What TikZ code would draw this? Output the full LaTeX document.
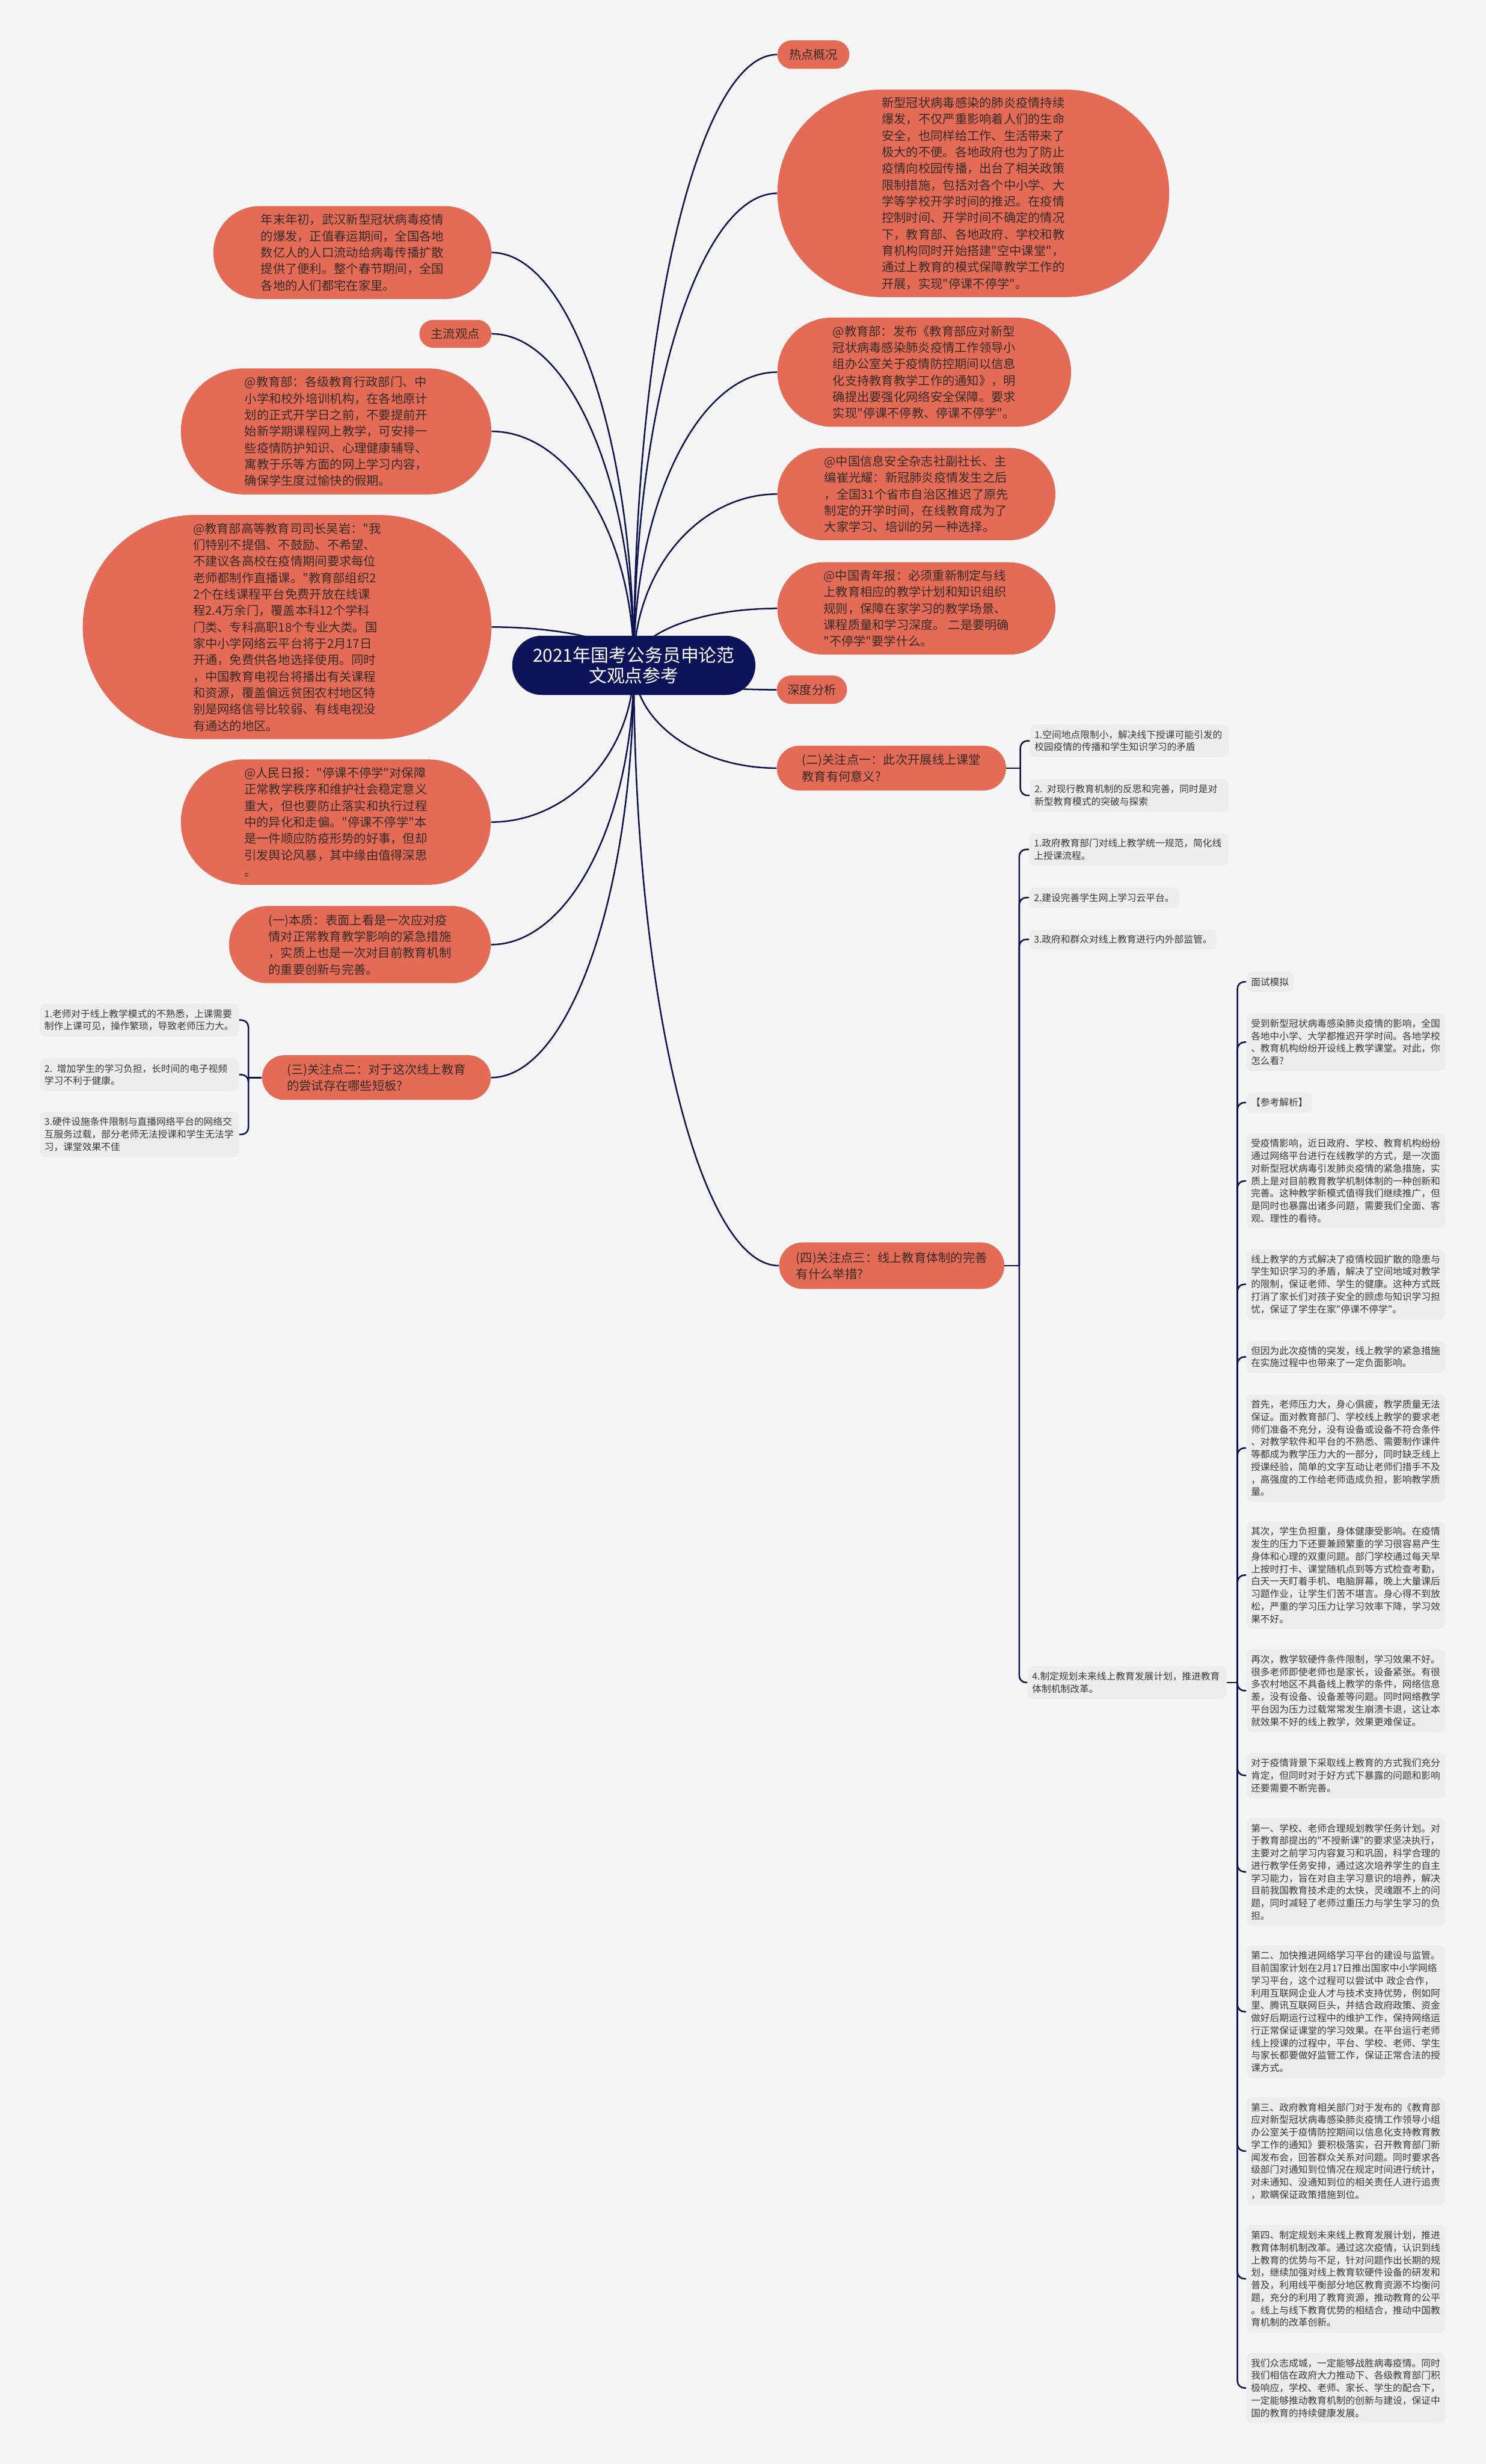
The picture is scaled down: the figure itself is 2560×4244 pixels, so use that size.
\documentclass[tikz,border=0pt]{standalone}
\usepackage{fontspec}
\newfontfamily\cjk{Noto Sans CJK SC}
\usetikzlibrary{shapes.misc,calc,backgrounds}
\definecolor{bgc}{HTML}{F5F5F5}
\definecolor{org}{HTML}{E46C56}
\definecolor{navy}{HTML}{0C1358}
\definecolor{lnk}{HTML}{0C1250}
\definecolor{leafbg}{HTML}{EDEDED}
\definecolor{otxt}{HTML}{382A26}
\definecolor{ltxt}{HTML}{3A3A3A}
\tikzset{
  onode/.style={shape=rounded rectangle, fill=org, text=otxt, align=left, inner xsep=2pt, inner ysep=6.5pt,
    font=\cjk\fontsize{10.5pt}{14.15pt}\selectfont},
  cnode/.style={shape=rounded rectangle, fill=navy, text=white, align=center, inner xsep=2pt, inner ysep=9pt,
    font=\cjk\fontsize{15.5pt}{17.5pt}\selectfont},
  leaf/.style={shape=rectangle, rounded corners=5pt, fill=leafbg, text=ltxt, align=left, inner xsep=4pt, inner ysep=5pt,
    font=\cjk\fontsize{8.15pt}{10.75pt}\selectfont},
  wleaf/.style={leaf, text width=163.5pt},
  conn/.style={draw=lnk, line width=1.3pt},
  curve/.style={conn, to path={.. controls ($(\tikztostart)!0.55!(\tikztostart |- \tikztotarget)$) and ($(\tikztotarget)!0.55!(\tikztostart |- \tikztotarget)$) .. (\tikztotarget)}},
  brace/.style={conn, rounded corners=6pt}
}
\begin{document}
\begin{tikzpicture}[x=0.5pt,y=-0.5pt]
\useasboundingbox (0,0) rectangle (2560,4244);

% central
\node[cnode, minimum width=213.5pt, minimum height=51pt] (c) at (1092,1146) {2021年国考公务员申论范\\文观点参考};

% right orange nodes
\node[onode, anchor=west, minimum width=66pt, minimum height=24.5pt] (hot) at (1339,94) {热点概况};
\node[onode, anchor=west, minimum width=341.5pt, minimum height=178.5pt] (big) at (1339,333) {新型冠状病毒感染的肺炎疫情持续\\爆发，不仅严重影响着人们的生命\\安全，也同样给工作、生活带来了\\极大的不便。各地政府也为了防止\\疫情向校园传播，出台了相关政策\\限制措施，包括对各个中小学、大\\学等学校开学时间的推迟。在疫情\\控制时间、开学时间不确定的情况\\下，教育部、各地政府、学校和教\\育机构同时开始搭建"空中课堂"，\\通过上教育的模式保障教学工作的\\开展，实现"停课不停学"。};
\node[onode, anchor=west, minimum width=257pt, minimum height=94pt] (moe2) at (1339,641) {@教育部：发布《教育部应对新型\\冠状病毒感染肺炎疫情工作领导小\\组办公室关于疫情防控期间以信息\\化支持教育教学工作的通知》，明\\确提出要强化网络安全保障。要求\\实现"停课不停教、停课不停学"。};
\node[onode, anchor=west, minimum width=243.5pt, minimum height=79.5pt] (info) at (1339,851) {@中国信息安全杂志社副社长、主\\编崔光耀：新冠肺炎疫情发生之后\\，全国31个省市自治区推迟了原先\\制定的开学时间，在线教育成为了\\大家学习、培训的另一种选择。};
\node[onode, anchor=west, minimum width=243.5pt, minimum height=79.5pt] (youth) at (1339,1048) {@中国青年报：必须重新制定与线\\上教育相应的教学计划和知识组织\\规则，保障在家学习的教学场景、\\课程质量和学习深度。 二是要明确\\"不停学"要学什么。};
\node[onode, anchor=west, minimum width=64.5pt, minimum height=24.5pt] (deep) at (1338,1188) {深度分析};
\node[onode, anchor=west, minimum width=201.5pt, minimum height=38.5pt] (q1) at (1338,1323) {(二)关注点一：此次开展线上课堂\\教育有何意义?};
\node[onode, anchor=west, minimum width=198pt, minimum height=40pt] (q3) at (1342,2180) {(四)关注点三：线上教育体制的完善\\有什么举措?};

% left orange nodes
\node[onode, anchor=east, minimum width=243.5pt, minimum height=80pt] (year) at (847,435) {年末年初，武汉新型冠状病毒疫情\\的爆发，正值春运期间，全国各地\\数亿人的人口流动给病毒传播扩散\\提供了便利。整个春节期间，全国\\各地的人们都宅在家里。};
\node[onode, anchor=east, minimum width=66pt, minimum height=24pt] (main) at (847,575) {主流观点};
\node[onode, anchor=east, minimum width=271.5pt, minimum height=108.5pt] (moe1) at (847,743) {@教育部：各级教育行政部门、中\\小学和校外培训机构，在各地原计\\划的正式开学日之前，不要提前开\\始新学期课程网上教学，可安排一\\些疫情防护知识、心理健康辅导、\\寓教于乐等方面的网上学习内容，\\确保学生度过愉快的假期。};
\node[onode, anchor=east, minimum width=356pt, minimum height=193pt] (high) at (847,1080) {@教育部高等教育司司长吴岩："我\\们特别不提倡、不鼓励、不希望、\\不建议各高校在疫情期间要求每位\\老师都制作直播课。"教育部组织2\\2个在线课程平台免费开放在线课\\程2.4万余门，覆盖本科12个学科\\门类、专科高职18个专业大类。国\\家中小学网络云平台将于2月17日\\开通，免费供各地选择使用。同时\\，中国教育电视台将播出有关课程\\和资源，覆盖偏远贫困农村地区特\\别是网络信号比较弱、有线电视没\\有通达的地区。};
\node[onode, anchor=east, minimum width=271pt, minimum height=108pt] (people) at (846,1416) {@人民日报："停课不停学"对保障\\正常教学秩序和维护社会稳定意义\\重大，但也要防止落实和执行过程\\中的异化和走偏。"停课不停学"本\\是一件顺应防疫形势的好事，但却\\引发舆论风暴，其中缘由值得深思\\。};
\node[onode, anchor=east, minimum width=229.5pt, minimum height=66.5pt] (ess) at (846,1627) {(一)本质：表面上看是一次应对疫\\情对正常教育教学影响的紧急措施\\，实质上也是一次对目前教育机制\\的重要创新与完善。};
\node[onode, anchor=east, minimum width=201pt, minimum height=38.5pt] (q2) at (846,1856) {(三)关注点二：对于这次线上教育\\的尝试存在哪些短板?};

% leaves of (二)
\node[wleaf, anchor=west] (l21) at (1774,1276) {1.空间地点限制小，解决线下授课可能引发的\\校园疫情的传播和学生知识学习的矛盾};
\node[wleaf, anchor=west] (l22) at (1774,1370) {2. 对现行教育机制的反思和完善，同时是对\\新型教育模式的突破与探索};

% leaves of (三)
\node[wleaf, anchor=east] (t1) at (412,1757) {1.老师对于线上教学模式的不熟悉，上课需要\\制作上课可见，操作繁琐，导致老师压力大。};
\node[wleaf, anchor=east] (t2) at (412,1851) {2. 增加学生的学习负担，长时间的电子视频\\学习不利于健康。};
\node[wleaf, anchor=east] (t3) at (412,1954) {3.硬件设施条件限制与直播网络平台的网络交\\互服务过载，部分老师无法授课和学生无法学\\习，课堂效果不佳};

% leaves of (四)
\node[wleaf, anchor=west] (l41) at (1773,1463) {1.政府教育部门对线上教学统一规范，简化线\\上授课流程。};
\node[leaf, anchor=west] (l42) at (1773,1546) {2.建设完善学生网上学习云平台。};
\node[leaf, anchor=west] (l43) at (1773,1618) {3.政府和群众对线上教育进行内外部监管。};
\node[wleaf, anchor=west] (l44) at (1770,2898) {4.制定规划未来线上教育发展计划，推进教育\\体制机制改革。};

% right column
\node[leaf, anchor=west] (r1) at (2147,1691) {面试模拟};
\node[wleaf, anchor=west] (r2) at (2147,1795) {受到新型冠状病毒感染肺炎疫情的影响，全国\\各地中小学、大学都推迟开学时间。各地学校\\、教育机构纷纷开设线上教学课堂。对此，你\\怎么看?};
\node[leaf, anchor=west] (r3) at (2147,1899) {【参考解析】};
\node[wleaf, anchor=west] (r4) at (2147,2034) {受疫情影响，近日政府、学校、教育机构纷纷\\通过网络平台进行在线教学的方式，是一次面\\对新型冠状病毒引发肺炎疫情的紧急措施，实\\质上是对目前教育教学机制体制的一种创新和\\完善。这种教学新模式值得我们继续推广，但\\是同时也暴露出诸多问题，需要我们全面、客\\观、理性的看待。};
\node[wleaf, anchor=west] (r5) at (2147,2212) {线上教学的方式解决了疫情校园扩散的隐患与\\学生知识学习的矛盾，解决了空间地域对教学\\的限制，保证老师、学生的健康。这种方式既\\打消了家长们对孩子安全的顾虑与知识学习担\\忧，保证了学生在家"停课不停学"。};
\node[wleaf, anchor=west] (r6) at (2147,2337) {但因为此次疫情的突发，线上教学的紧急措施\\在实施过程中也带来了一定负面影响。};
\node[wleaf, anchor=west] (r7) at (2147,2494) {首先，老师压力大，身心俱疲，教学质量无法\\保证。面对教育部门、学校线上教学的要求老\\师们准备不充分，没有设备或设备不符合条件\\、对教学软件和平台的不熟悉、需要制作课件\\等都成为教学压力大的一部分，同时缺乏线上\\授课经验，简单的文字互动让老师们措手不及\\，高强度的工作给老师造成负担，影响教学质\\量。};
\node[wleaf, anchor=west] (r8) at (2147,2713) {其次，学生负担重，身体健康受影响。在疫情\\发生的压力下还要兼顾繁重的学习很容易产生\\身体和心理的双重问题。部门学校通过每天早\\上按时打卡、课堂随机点到等方式检查考勤，\\白天一天盯着手机、电脑屏幕，晚上大量课后\\习题作业，让学生们苦不堪言。身心得不到放\\松，严重的学习压力让学习效率下降，学习效\\果不好。};
\node[wleaf, anchor=west] (r9) at (2147,2912) {再次，教学软硬件条件限制，学习效果不好。\\很多老师即使老师也是家长，设备紧张。有很\\多农村地区不具备线上教学的条件，网络信息\\差，没有设备、设备差等问题。同时网络教学\\平台因为压力过载常常发生崩溃卡退，这让本\\就效果不好的线上教学，效果更难保证。};
\node[wleaf, anchor=west] (r10) at (2147,3058) {对于疫情背景下采取线上教育的方式我们充分\\肯定，但同时对于好方式下暴露的问题和影响\\还要需要不断完善。};
\node[wleaf, anchor=west] (r11) at (2147,3224) {第一、学校、老师合理规划教学任务计划。对\\于教育部提出的"不授新课"的要求坚决执行，\\主要对之前学习内容复习和巩固，科学合理的\\进行教学任务安排，通过这次培养学生的自主\\学习能力，旨在对自主学习意识的培养，解决\\目前我国教育技术走的太快，灵魂跟不上的问\\题，同时减轻了老师过重压力与学生学习的负\\担。};
\node[wleaf, anchor=west] (r12) at (2147,3465) {第二、加快推进网络学习平台的建设与监管。\\目前国家计划在2月17日推出国家中小学网络\\学习平台，这个过程可以尝试中 政企合作，\\利用互联网企业人才与技术支持优势，例如阿\\里、腾讯互联网巨头，并结合政府政策、资金\\做好后期运行过程中的维护工作，保持网络运\\行正常保证课堂的学习效果。在平台运行老师\\线上授课的过程中，平台、学校、老师、学生\\与家长都要做好监管工作，保证正常合法的授\\课方式。};
\node[wleaf, anchor=west] (r13) at (2147,3705) {第三、政府教育相关部门对于发布的《教育部\\应对新型冠状病毒感染肺炎疫情工作领导小组\\办公室关于疫情防控期间以信息化支持教育教\\学工作的通知》要积极落实，召开教育部门新\\闻发布会，回答群众关系对问题。同时要求各\\级部门对通知到位情况在规定时间进行统计，\\对未通知、没通知到位的相关责任人进行追责\\，欺瞒保证政策措施到位。};
\node[wleaf, anchor=west] (r14) at (2147,3925) {第四、制定规划未来线上教育发展计划，推进\\教育体制机制改革。通过这次疫情，认识到线\\上教育的优势与不足，针对问题作出长期的规\\划，继续加强对线上教育软硬件设备的研发和\\普及，利用线平衡部分地区教育资源不均衡问\\题，充分的利用了教育资源，推动教育的公平\\。线上与线下教育优势的相结合，推动中国教\\育机制的改革创新。};
\node[wleaf, anchor=west] (r15) at (2147,4113) {我们众志成城，一定能够战胜病毒疫情。同时\\我们相信在政府大力推动下、各级教育部门积\\极响应，学校、老师、家长、学生的配合下，\\一定能够推动教育机制的创新与建设，保证中\\国的教育的持续健康发展。};

% bracket junctions
\coordinate (q1b) at (1758,1323);
\coordinate (q2b) at (428,1856);
\coordinate (q3b) at (1756,2180);
\coordinate (l44b) at (2132,2898);

\begin{pgfonlayer}{background}
\fill[bgc] (0,0) rectangle (2560,4244);
\foreach \n in {hot,big,moe2,info,youth,deep,q1,q3} \draw[curve] (c.center) to (\n.west);
\foreach \n in {year,main,moe1,high,people,ess,q2} \draw[curve] (c.center) to (\n.east);
\draw[conn] (q1.east) -- (q1b);
\foreach \n in {l21,l22} \draw[brace] (q1b) |- (\n.west);
\draw[conn] (q2.west) -- (q2b);
\foreach \n in {t1,t2,t3} \draw[brace] (q2b) |- (\n.east);
\draw[conn] (q3.east) -- (q3b);
\foreach \n in {l41,l42,l43,l44} \draw[brace] (q3b) |- (\n.west);
\draw[conn] (l44.east) -- (l44b);
\foreach \n in {r1,r2,r3,r4,r5,r6,r7,r8,r9,r10,r11,r12,r13,r14,r15} \draw[brace] (l44b) |- (\n.west);
\end{pgfonlayer}
\end{tikzpicture}
\end{document}
